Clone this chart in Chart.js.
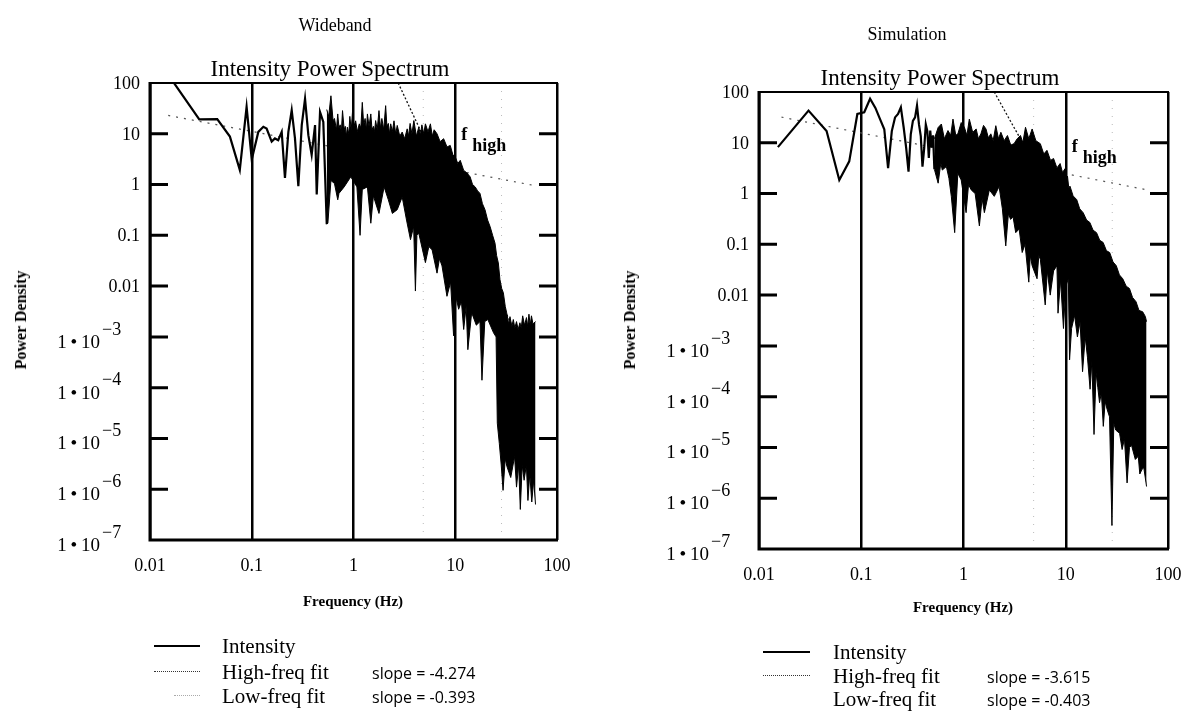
<!DOCTYPE html>
<html lang="en">
<head>
<meta charset="UTF-8">
<title>Intensity Power Spectrum</title>
<script src="https://cdn.jsdelivr.net/npm/chart.js"></script>
<style>
    body { margin: 0; background: #fff; font-family: 'Liberation Serif', serif; color: #000; }
    #page { position: relative; width: 1190px; height: 724px; overflow: hidden; }
    canvas { position: absolute; top: 0; }
    .t { position: absolute; white-space: nowrap; line-height: 1; transform: translate(-50%, -50%); }
    .l { position: absolute; white-space: nowrap; line-height: 1; transform: translateY(-50%); }
    .sample { position: absolute; height: 0; }
    .title1 { font-size: 18px; }
    .title2 { font-size: 23px; }
    .ylab { font-size: 16px; font-weight: bold; transform: translate(-50%, -50%) rotate(-90deg); }
    .xlab { font-size: 15px; font-weight: bold; }
    .leg { font-size: 21px; }
    .slope { font-size: 16px; font-family: 'Open Sans', sans-serif; }
</style>
</head>
<body>
<div id="page">
    <canvas id="wideband" width="595" height="724" style="left:0"></canvas>
    <canvas id="simulation" width="595" height="724" style="left:595px"></canvas>

    <div class="t title1" style="left:335px; top:25px">Wideband</div>
    <div class="t title2" style="left:330px; top:68px">Intensity Power Spectrum</div>
    <div class="t ylab" style="left:21px; top:320px">Power Density</div>
    <div class="t xlab" style="left:353px; top:601px">Frequency (Hz)</div>

    <div class="t title1" style="left:907px; top:34px">Simulation</div>
    <div class="t title2" style="left:940px; top:77px">Intensity Power Spectrum</div>
    <div class="t ylab" style="left:630px; top:320px">Power Density</div>
    <div class="t xlab" style="left:963px; top:607px">Frequency (Hz)</div>

    <div class="sample" style="left:154px; top:645px; width:46px; border-top:2px solid #000"></div>
    <div class="l leg" style="left:222px; top:646px">Intensity</div>
    <div class="sample" style="left:154px; top:671px; width:46px; border-top:1.5px dotted #333"></div>
    <div class="l leg" style="left:222px; top:672px">High-freq fit</div>
    <div class="l slope" style="left:372px; top:673px">slope = -4.274</div>
    <div class="sample" style="left:174px; top:695px; width:26px; border-top:1px dotted #aaa"></div>
    <div class="l leg" style="left:222px; top:696px">Low-freq fit</div>
    <div class="l slope" style="left:372px; top:697px">slope = -0.393</div>

    <div class="sample" style="left:763px; top:651px; width:47px; border-top:2px solid #000"></div>
    <div class="l leg" style="left:833px; top:652px">Intensity</div>
    <div class="sample" style="left:763px; top:675px; width:47px; border-top:1.5px dotted #333"></div>
    <div class="l leg" style="left:833px; top:676px">High-freq fit</div>
    <div class="l slope" style="left:987px; top:677px">slope = -3.615</div>
    <div class="l leg" style="left:833px; top:699px">Low-freq fit</div>
    <div class="l slope" style="left:987px; top:700px">slope = -0.403</div>
</div>

<script>
    // axes
    const xTicks = [0.01, 0.1, 1, 10, 100];
    const xLabels = ['0.01', '0.1', '1', '10', '100'];
    const yTicks = [100, 10, 1, 0.1, 0.01, 1e-3, 1e-4, 1e-5, 1e-6, 1e-7];
    const yBase = ['100', '10', '1', '0.1', '0.01', '1\u2009\u2022\u200910', '1\u2009\u2022\u200910', '1\u2009\u2022\u200910', '1\u2009\u2022\u200910', '1\u2009\u2022\u200910'];
    const yExp = ['', '', '', '', '', '\u22123', '\u22124', '\u22125', '\u22126', '\u22127'];
    const markerF = [4.85, 28.5];

    // Wideband: single line at low frequencies, then the dense part as upper / lower envelope
    const wbLowF = [0.0153, 0.0305, 0.0458, 0.061, 0.0763, 0.089, 0.1, 0.116, 0.13, 0.14, 0.157, 0.169, 0.182, 0.197, 0.212, 0.229, 0.247, 0.266, 0.287, 0.31, 0.334, 0.36, 0.388, 0.419, 0.435, 0.469, 0.505, 0.546];
    const wbLowP = [140, 19.3, 19.5, 8.8, 1.95, 34, 3.1, 10.9, 13.7, 12.7, 7.0, 8.1, 7.5, 10.9, 1.35, 10.9, 29, 8.1, 0.93, 14.8, 48.8, 9.4, 3.85, 14.8, 0.64, 26.8, 17.1, 0.166];
    const wbHiF = [0.546, 0.57, 0.6, 0.63, 0.65, 0.68, 0.7, 0.72, 0.74, 0.76, 0.78, 0.81, 0.83, 0.85, 0.87, 0.9, 0.92, 0.95, 0.98, 1.01, 1.05, 1.09, 1.14, 1.18, 1.22, 1.26, 1.3, 1.34, 1.37, 1.42, 1.48, 1.52, 1.57, 1.61, 1.65, 1.71, 1.78, 1.84, 1.9, 1.98, 2.07, 2.13, 2.2, 2.26, 2.32, 2.41, 2.5, 2.6, 2.69, 2.85, 3.01, 3.18, 3.37, 3.48, 3.6, 3.75, 3.92, 4.15, 4.38, 4.55, 4.7, 4.9, 5.09, 5.4, 5.7, 5.95, 6.2, 6.62, 7.1, 7.69, 8.3, 8.93, 9.5, 10, 10.6, 11.2, 12.1, 13, 14, 14.8, 15.7, 16.6, 17.5, 18.5, 19.6, 20.8, 22, 23.3, 24.6, 25.5, 26.5, 27.5, 28.6, 29.7, 31, 32, 33.5, 34.5, 36, 37.2, 38.5, 40, 41.5, 43.2, 44.5, 46, 48, 50.1, 51.5, 53, 54.5, 56.1, 58, 61.5];
    const wbHiP = [30, 22, 56, 18, 20, 12, 24.6, 13, 15, 11, 28.6, 12, 14, 9, 13.5, 10, 22, 12, 28.6, 14, 18, 11, 15.7, 13, 41.6, 15, 20, 12, 24.6, 14, 24.6, 12, 14, 11, 18.2, 12, 28.6, 13, 20, 12, 35.8, 14, 16, 10, 15.7, 11, 18, 10, 14.6, 9, 10.8, 8, 12.5, 9, 16, 10, 18.2, 9, 13.5, 9.5, 15, 10, 15.7, 11, 15.7, 9, 12, 10, 7, 8.0, 5.5, 5.9, 3.8, 3.5, 2.6, 3.0, 1.9, 1.7, 1.42, 1.0, 0.9, 0.75, 0.67, 0.42, 0.32, 0.2, 0.149, 0.1, 0.07, 0.04, 0.0286, 0.0135, 0.009, 0.0074, 0.004, 0.003, 0.0018, 0.0025, 0.0016, 0.0022, 0.0015, 0.002, 0.0014, 0.0019, 0.0015, 0.0026, 0.0017, 0.0024, 0.0016, 0.0028, 0.0017, 0.0026, 0.0018, 0.002];
    const wbLoF = [0.546, 0.56, 0.6, 0.65, 0.7, 0.72, 0.81, 0.94, 1.08, 1.16, 1.22, 1.37, 1.48, 1.57, 1.65, 1.78, 2.0, 2.2, 2.41, 2.69, 3.01, 3.32, 3.63, 3.9, 4.06, 4.2, 4.38, 5.09, 5.5, 5.92, 6.62, 7.0, 7.41, 8.29, 9.0, 9.63, 10.2, 10.8, 11.5, 12.1, 12.8, 13.3, 14.5, 16.1, 17.5, 18.3, 19.5, 20.9, 23.8, 25.2, 25.9, 27.1, 28.3, 29.5, 31, 32.2, 35.1, 38.3, 40, 42, 43.6, 45.5, 47.5, 50, 51.8, 54, 56.5, 59, 61.5];
    const wbLoP = [0.166, 0.173, 1.2, 1.05, 0.5, 0.67, 0.9, 1.42, 0.9, 0.1, 0.8, 0.9, 0.173, 0.6, 0.43, 0.27, 0.9, 0.5, 0.27, 0.32, 0.57, 0.2, 0.082, 0.15, 0.008, 0.1, 0.11, 0.029, 0.06, 0.052, 0.018, 0.035, 0.025, 0.0063, 0.012, 0.00105, 0.006, 0.0035, 0.005, 0.0014, 0.004, 0.00056, 0.003, 0.0017, 0.002, 0.00014, 0.002, 0.0022, 0.0012, 0.001, 2e-5, 8e-6, 3e-6, 9.5e-7, 4e-6, 2.8e-6, 1.7e-6, 4.4e-6, 1.1e-6, 3e-6, 4e-7, 3e-6, 1.5e-6, 3e-6, 6e-7, 2e-6, 5.6e-7, 1.5e-6, 5e-7];
    const wbHighFit = [[2.75, 100], [60, 1.9e-4]];
    const wbLowFit = [[0.0151, 23], [58, 0.97]];

    // Simulation
    const simLowF = [0.0153, 0.0305, 0.0458, 0.061, 0.0763, 0.0916, 0.107, 0.122, 0.1375, 0.153, 0.168, 0.183, 0.199, 0.214, 0.229, 0.244, 0.26, 0.275, 0.29, 0.305, 0.32, 0.336, 0.351, 0.367, 0.382, 0.397, 0.413, 0.428, 0.443, 0.458, 0.473, 0.489, 0.504, 0.519];
    const simLowP = [8.2, 43, 17.1, 1.85, 4.3, 36.9, 40, 73.6, 48.6, 29, 18.5, 3.16, 17, 31.6, 37, 50, 20, 7.9, 2.7, 14.7, 27, 31.6, 54, 23, 13.6, 3.4, 7.9, 23, 17, 5, 17.4, 8, 14, 3];
    const simHiF = [0.519, 0.565, 0.608, 0.65, 0.705, 0.75, 0.789, 0.84, 0.881, 0.95, 1.02, 1.08, 1.14, 1.23, 1.33, 1.4, 1.48, 1.57, 1.66, 1.75, 1.85, 1.95, 2.07, 2.2, 2.32, 2.5, 2.69, 2.9, 3.12, 3.35, 3.61, 3.8, 4.04, 4.35, 4.69, 5.1, 5.64, 6.1, 6.55, 7.1, 7.6, 8.2, 8.81, 9.3, 9.86, 10.2, 10.4, 10.7, 11.0, 11.8, 12.8, 13.7, 14.8, 16, 17.2, 18.5, 20, 21.5, 23.2, 25, 26.9, 29, 31.2, 33.5, 36.1, 39, 42, 45, 48.7, 52, 56.5, 60, 61.7];
    const simHiP = [12, 20, 23.4, 12, 17.4, 14, 29.3, 14, 15, 25, 20.2, 14, 29.3, 16, 18.7, 12, 15, 22, 18.7, 12.5, 15, 11, 21.7, 12, 16.1, 11, 13.9, 9, 9.6, 12, 13.9, 10, 20.2, 12, 18.7, 11, 9.6, 6, 7.1, 4.5, 4.9, 3.2, 3.9, 2.6, 3.1, 2.0, 2.2, 1.3, 1.4, 0.9, 0.76, 0.5, 0.42, 0.3, 0.27, 0.19, 0.17, 0.12, 0.109, 0.075, 0.069, 0.045, 0.038, 0.025, 0.021, 0.015, 0.0135, 0.009, 0.0074, 0.005, 0.0047, 0.0038, 0.003];
    const simLoF = [0.519, 0.565, 0.6, 0.62, 0.68, 0.72, 0.76, 0.82, 0.88, 0.95, 1.06, 1.12, 1.19, 1.3, 1.43, 1.52, 1.6, 1.79, 2.0, 2.23, 2.4, 2.59, 2.75, 2.89, 3.05, 3.24, 3.5, 3.75, 4.0, 4.35, 4.5, 4.69, 5.24, 5.45, 5.64, 6.3, 6.6, 7.05, 7.6, 8.2, 8.4, 8.9, 9.5, 10.0, 10.6, 10.9, 11.4, 12.2, 13.0, 13.8, 14.6, 15.5, 16.3, 17.3, 18.0, 18.9, 19.8, 20.6, 21.4, 22.3, 23.3, 24.3, 25.4, 26.8, 28.3, 29.5, 30.8, 33.6, 35.6, 37.5, 39.8, 42, 44, 47.9, 51.2, 53, 55.7, 58, 61.7];
    const simLoP = [3, 1.6, 4, 2.9, 3.4, 2, 0.88, 0.17, 2.5, 1.85, 0.42, 1.5, 1.18, 1.0, 0.23, 0.8, 0.42, 1.18, 0.88, 1.37, 0.5, 0.093, 0.4, 0.31, 0.35, 0.17, 0.2, 0.069, 0.1, 0.018, 0.06, 0.038, 0.021, 0.06, 0.051, 0.0064, 0.03, 0.01, 0.03, 0.038, 0.0044, 0.02, 0.0022, 0.015, 0.021, 5.3e-4, 0.0022, 0.004, 0.0015, 0.003, 3.1e-4, 0.0015, 6e-4, 1.4e-4, 5e-4, 1.8e-5, 3e-4, 1.5e-4, 7.6e-5, 1.2e-4, 2.6e-5, 8e-5, 5.6e-5, 4e-5, 2.9e-7, 3e-5, 2.2e-5, 1.9e-5, 9.1e-6, 1.5e-5, 2e-6, 1e-5, 1.1e-5, 5.8e-6, 6.7e-6, 3e-6, 3.7e-6, 4e-6, 1.7e-6];
    const simHighFit = [[2.0, 100], [61, 4.3e-4]];
    const simLowFit = [[0.0166, 32], [60, 1.2]];

    function pts(fs, ps) {
        return fs.map((f, i) => ({ x: f, y: ps[i] }));
    }

    function pairs(arr) {
        return arr.map(p => ({ x: p[0], y: p[1] }));
    }

    // frame, tick marks, tick labels and the f_high note
    const frame = {
        id: 'frame',
        afterDraw(chart, args, opts) {
            const { ctx, chartArea: a, scales: { x, y } } = chart;
            ctx.save();
            ctx.strokeStyle = '#000';
            ctx.fillStyle = '#000';
            ctx.lineWidth = 2;
            ctx.strokeRect(a.left, a.top, a.right - a.left, a.bottom - a.top);
            ctx.lineWidth = 3;
            ctx.beginPath();
            ctx.moveTo(a.left, a.top - 1);
            ctx.lineTo(a.left, a.bottom);
            ctx.lineTo(a.right + 1, a.bottom);
            ctx.stroke();

            yTicks.forEach((v, i) => {
                const py = y.getPixelForValue(v);
                if (i > 0 && i < yTicks.length - 1) {
                    ctx.lineWidth = 3;
                    ctx.beginPath();
                    ctx.moveTo(a.left, py);
                    ctx.lineTo(a.left + 18, py);
                    ctx.moveTo(a.right - 18, py);
                    ctx.lineTo(a.right, py);
                    ctx.stroke();
                }
                ctx.font = '18px "Liberation Serif"';
                ctx.textBaseline = 'middle';
                if (yExp[i]) {
                    ctx.textAlign = 'right';
                    ctx.font = '19px "Liberation Serif"';
                    ctx.fillText(yBase[i], a.left - 50, py + 6);
                    ctx.font = '18px "Liberation Serif"';
                    ctx.textAlign = 'left';
                    ctx.fillText(yExp[i], a.left - 48, py - 7);
                } else {
                    ctx.textAlign = 'right';
                    ctx.fillText(yBase[i], a.left - 10, py + 1);
                }
            });

            ctx.font = '18px "Liberation Serif"';
            ctx.textAlign = 'center';
            ctx.textBaseline = 'middle';
            xTicks.forEach((v, i) => {
                ctx.fillText(xLabels[i], x.getPixelForValue(v), a.bottom + 26);
            });

            const fx = x.getPixelForValue(10) + opts.fdx;
            const fy = y.getPixelForValue(10);
            ctx.font = 'bold 18px "Liberation Serif"';
            ctx.textAlign = 'left';
            ctx.fillText('f', fx, fy + opts.fdy);
            ctx.fillText('high', fx + 11, fy + opts.fdy + 11);
            ctx.restore();
        }
    };

    function spectrumSets(lowF, lowP, hiF, hiP, loF, loP, highFit, lowFit) {
        const sets = [
            { data: pts(hiF, hiP), borderColor: '#000', borderWidth: 1, backgroundColor: '#000', fill: '+1' },
            { data: pts(loF, loP), borderColor: '#000', borderWidth: 1, fill: false },
            { data: pts(lowF, lowP), borderColor: '#000', borderWidth: 2.2, fill: false },
            { data: pairs(highFit), borderColor: '#111', borderWidth: 1.3, borderDash: [2, 2], fill: false },
            { data: pairs(lowFit), borderColor: '#555', borderWidth: 1.2, borderDash: [2, 6], fill: false }
        ];
        markerF.forEach(f => {
            sets.push({ data: [{ x: f, y: 1e-7 }, { x: f, y: 100 }], borderColor: '#bbb', borderWidth: 1, borderDash: [1, 7], fill: false });
        });
        return sets;
    }

    function makeChart(id, sets, pad, note) {
        return new Chart(document.getElementById(id), {
            type: 'line',
            data: { datasets: sets },
            options: {
                responsive: false,
                animation: false,
                layout: { padding: pad },
                elements: { point: { radius: 0 }, line: { tension: 0 } },
                plugins: { legend: { display: false }, tooltip: { enabled: false }, frame: note },
                scales: {
                    x: {
                        type: 'logarithmic', min: 0.01, max: 100,
                        afterBuildTicks: s => { s.ticks = xTicks.map(v => ({ value: v })); },
                        ticks: { display: false },
                        grid: { color: '#000', lineWidth: 2.5, drawTicks: false },
                        border: { display: false }
                    },
                    y: {
                        type: 'logarithmic', min: 1e-7, max: 100,
                        afterBuildTicks: s => { s.ticks = yTicks.map(v => ({ value: v })); },
                        ticks: { display: false },
                        grid: { display: false, drawTicks: false },
                        border: { display: false }
                    }
                }
            },
            plugins: [frame]
        });
    }

    makeChart('wideband',
        spectrumSets(wbLowF, wbLowP, wbHiF, wbHiP, wbLoF, wbLoP, wbHighFit, wbLowFit),
        { left: 150, right: 38, top: 83, bottom: 184 },
        { fdx: 6, fdy: 2 });

    makeChart('simulation',
        spectrumSets(simLowF, simLowP, simHiF, simHiP, simLoF, simLoP, simHighFit, simLowFit),
        { left: 164, right: 22, top: 92, bottom: 175 },
        { fdx: 6, fdy: 5 });
</script>
</body>
</html>
